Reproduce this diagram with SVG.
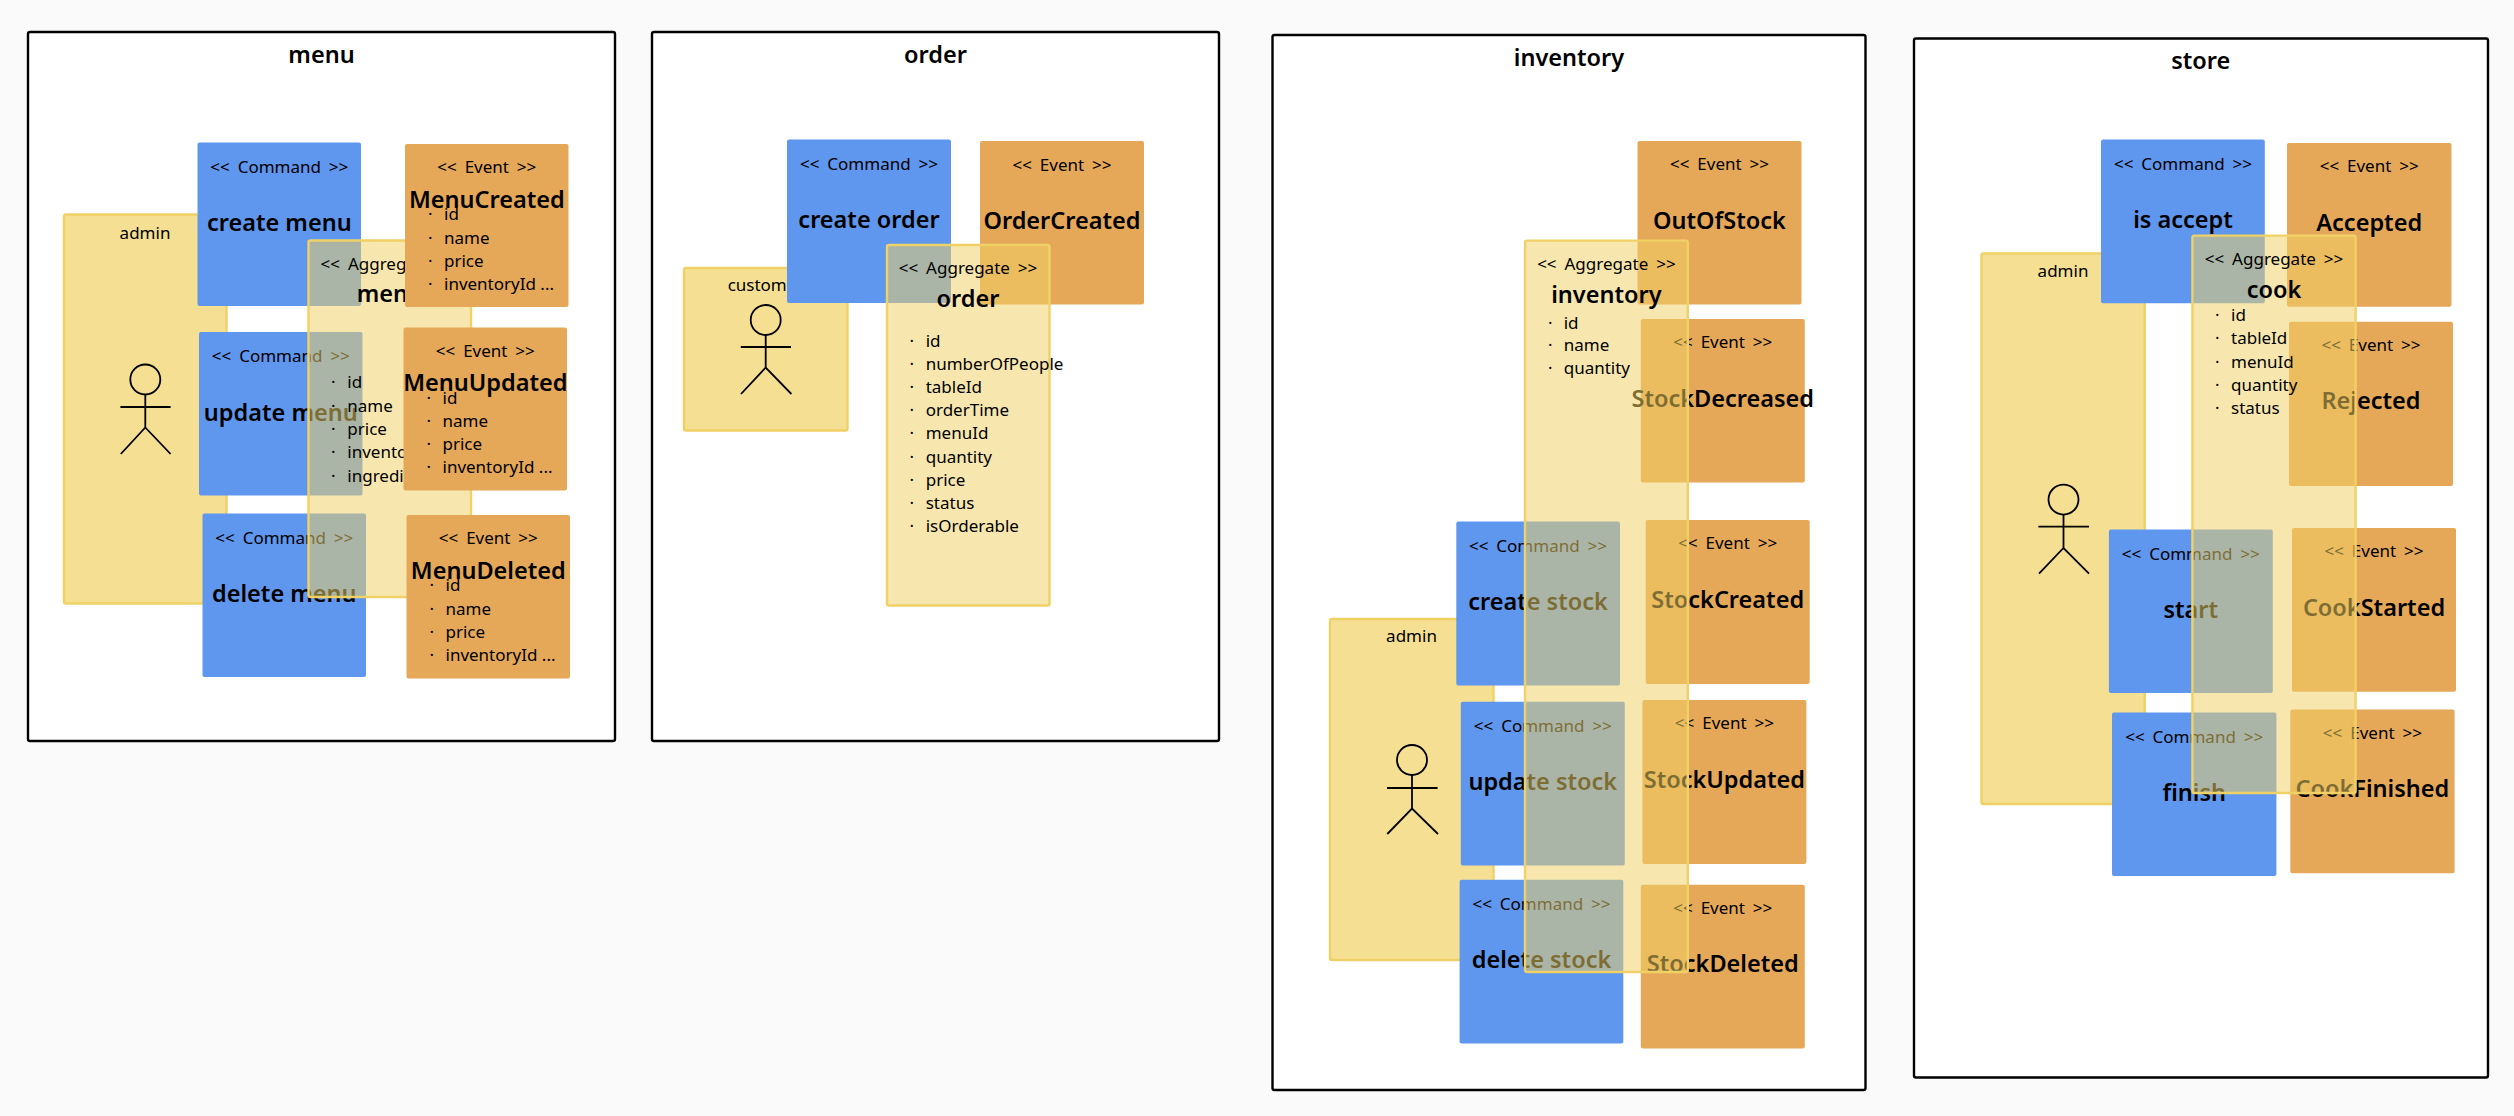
<svg xmlns="http://www.w3.org/2000/svg" width="2514" height="1116" viewBox="0 0 2514 1116">
<style>
text{font-family:"Noto Sans","Open Sans","DejaVu Sans",sans-serif;fill:#000}
.frame{fill:#fff;stroke:#000;stroke-width:2.4}
.title,.name{font-size:23.500px;font-weight:600;text-anchor:middle}
.tag{font-size:17px;word-spacing:3.500px;text-anchor:middle;transform:translateY(-1px)}
.attr{font-size:17px;transform:translateY(-1px)}
.actorname{font-size:17px;text-anchor:middle}
.cmd{fill:#5f96ee}
.evt{fill:#e5a858}
.actor{fill:#f0d165;fill-opacity:.7;stroke:#f0d165;stroke-width:2.4}
.agg{fill:#f0d165;fill-opacity:.52;stroke:#f0d165;stroke-width:2.4}
.stick{fill:none;stroke:#000;stroke-width:1.8}
</style>
<rect width="2514" height="1116" fill="#fafafa"/>

<g id="frame-menu"><rect class="frame" x="28" y="32" width="587" height="709" rx="2"/><text class="title" x="321.5" y="63">menu</text></g>
<g id="frame-order"><rect class="frame" x="652" y="32" width="567" height="709" rx="2"/><text class="title" x="935.5" y="63">order</text></g>
<g id="frame-inventory"><rect class="frame" x="1272.500" y="35" width="593" height="1055" rx="2"/><text class="title" x="1569" y="66">inventory</text></g>
<g id="frame-store"><rect class="frame" x="1914" y="38.500" width="574" height="1039" rx="2"/><text class="title" x="2200.800" y="69">store</text></g>

<g id="connectors"/>

<g id="actor-menu-admin"><rect class="actor" x="64" y="214.500" width="162.500" height="389" rx="2"/><text class="actorname" x="145" y="238.500">admin</text>
<g class="stick"><ellipse cx="145.300" cy="379.500" rx="15" ry="15"/><path d="M145.300 394.500V427.500M120.400 407H170.600M120.800 454L145.300 427.500L170.600 454"/></g></g>
<g id="cmd-create-menu"><rect class="cmd" x="197.500" y="142.500" width="163.500" height="163.500" rx="2"/><text class="tag" x="279.300" y="173.500">&lt;&lt; Command &gt;&gt;</text><text class="name" x="279.300" y="231">create menu</text></g>
<g id="cmd-update-menu"><rect class="cmd" x="199" y="332" width="163.500" height="163.500" rx="2"/><text class="tag" x="280.800" y="363">&lt;&lt; Command &gt;&gt;</text><text class="name" x="280.800" y="420.500">update menu</text></g>
<g id="cmd-delete-menu"><rect class="cmd" x="202.500" y="513.500" width="163.500" height="163.500" rx="2"/><text class="tag" x="284.300" y="544.500">&lt;&lt; Command &gt;&gt;</text><text class="name" x="284.300" y="602">delete menu</text></g>
<g id="agg-menu"><rect class="agg" x="308.500" y="240.500" width="162.500" height="356.500" rx="2"/><text class="tag" x="389.800" y="270.500">&lt;&lt; Aggregate &gt;&gt;</text><text class="name" x="389.800" y="301.500">menu</text>
<text class="attr" x="331" y="389">·</text><text class="attr" x="347.300" y="389">id</text>
<text class="attr" x="331" y="412.500">·</text><text class="attr" x="347.300" y="412.500">name</text>
<text class="attr" x="331" y="435.500">·</text><text class="attr" x="347.300" y="435.500">price</text>
<text class="attr" x="331" y="459">·</text><text class="attr" x="347.300" y="459">inventoryId</text>
<text class="attr" x="331" y="482.500">·</text><text class="attr" x="347.300" y="482.500">ingredi</text></g>
<g id="evt-menu-created"><rect class="evt" x="405" y="144" width="163.500" height="163" rx="2"/><text class="tag" x="486.800" y="174">&lt;&lt; Event &gt;&gt;</text><text class="name" x="486.800" y="207.500">MenuCreated</text>
<text class="attr" x="428" y="221">·</text><text class="attr" x="444" y="221">id</text><text class="attr" x="428" y="244.500">·</text><text class="attr" x="444" y="244.500">name</text><text class="attr" x="428" y="267.500">·</text><text class="attr" x="444" y="267.500">price</text><text class="attr" x="428" y="290.500">·</text><text class="attr" x="444" y="290.500">inventoryId ...</text></g>
<g id="evt-menu-updated"><rect class="evt" x="403.500" y="327.500" width="163.500" height="163" rx="2"/><text class="tag" x="485.300" y="357.500">&lt;&lt; Event &gt;&gt;</text><text class="name" x="485.300" y="391">MenuUpdated</text>
<text class="attr" x="426.500" y="404.500">·</text><text class="attr" x="442.500" y="404.500">id</text><text class="attr" x="426.500" y="428">·</text><text class="attr" x="442.500" y="428">name</text><text class="attr" x="426.500" y="451">·</text><text class="attr" x="442.500" y="451">price</text><text class="attr" x="426.500" y="474">·</text><text class="attr" x="442.500" y="474">inventoryId ...</text></g>
<g id="evt-menu-deleted"><rect class="evt" x="406.500" y="515" width="163.500" height="163.500" rx="2"/><text class="tag" x="488.300" y="545">&lt;&lt; Event &gt;&gt;</text><text class="name" x="488.300" y="578.500">MenuDeleted</text>
<text class="attr" x="429.500" y="592">·</text><text class="attr" x="445.500" y="592">id</text><text class="attr" x="429.500" y="615.500">·</text><text class="attr" x="445.500" y="615.500">name</text><text class="attr" x="429.500" y="638.500">·</text><text class="attr" x="445.500" y="638.500">price</text><text class="attr" x="429.500" y="661.500">·</text><text class="attr" x="445.500" y="661.500">inventoryId ...</text></g>

<g id="actor-order-customer"><rect class="actor" x="684" y="268" width="163.500" height="162.500" rx="2"/><text class="actorname" x="765.500" y="291">customer</text>
<g class="stick"><ellipse cx="765.700" cy="320" rx="15" ry="15"/><path d="M765.700 335V367.500M740.800 347H791M741 394L765.700 367.500L791.400 394"/></g></g>
<g id="cmd-create-order"><rect class="cmd" x="787" y="139.500" width="164" height="163.500" rx="2"/><text class="tag" x="869" y="170.500">&lt;&lt; Command &gt;&gt;</text><text class="name" x="869" y="228">create order</text></g>
<g id="evt-order-created"><rect class="evt" x="980" y="141" width="164" height="163.500" rx="2"/><text class="tag" x="1062" y="171.500">&lt;&lt; Event &gt;&gt;</text><text class="name" x="1062" y="228.500">OrderCreated</text></g>
<g id="agg-order"><rect class="agg" x="887" y="245" width="162.500" height="360.500" rx="2"/><text class="tag" x="968" y="275">&lt;&lt; Aggregate &gt;&gt;</text><text class="name" x="968" y="307">order</text>
<text class="attr" x="909.500" y="347.500">·</text><text class="attr" x="925.700" y="347.500">id</text>
<text class="attr" x="909.500" y="370.500">·</text><text class="attr" x="925.700" y="370.500">numberOfPeople</text>
<text class="attr" x="909.500" y="393.500">·</text><text class="attr" x="925.700" y="393.500">tableId</text>
<text class="attr" x="909.500" y="417">·</text><text class="attr" x="925.700" y="417">orderTime</text>
<text class="attr" x="909.500" y="440">·</text><text class="attr" x="925.700" y="440">menuId</text>
<text class="attr" x="909.500" y="463.500">·</text><text class="attr" x="925.700" y="463.500">quantity</text>
<text class="attr" x="909.500" y="487">·</text><text class="attr" x="925.700" y="487">price</text>
<text class="attr" x="909.500" y="510">·</text><text class="attr" x="925.700" y="510">status</text>
<text class="attr" x="909.500" y="533">·</text><text class="attr" x="925.700" y="533">isOrderable</text></g>

<g id="actor-inventory-admin"><rect class="actor" x="1330" y="619" width="163.500" height="341" rx="2"/><text class="actorname" x="1411.500" y="642">admin</text>
<g class="stick"><ellipse cx="1412" cy="760" rx="15" ry="15"/><path d="M1412 775V808.500M1387 788H1437.600M1387.300 834L1412 808.500L1438 834"/></g></g>
<g id="cmd-create-stock"><rect class="cmd" x="1456.300" y="521.500" width="163.700" height="164" rx="2"/><text class="tag" x="1538" y="552.500">&lt;&lt; Command &gt;&gt;</text><text class="name" x="1538" y="610">create stock</text></g>
<g id="cmd-update-stock"><rect class="cmd" x="1460.800" y="701.800" width="164" height="163.700" rx="2"/><text class="tag" x="1542.800" y="732.800">&lt;&lt; Command &gt;&gt;</text><text class="name" x="1542.800" y="790.300">update stock</text></g>
<g id="cmd-delete-stock"><rect class="cmd" x="1459.600" y="879.700" width="163.700" height="163.700" rx="2"/><text class="tag" x="1541.500" y="910.700">&lt;&lt; Command &gt;&gt;</text><text class="name" x="1541.500" y="968.200">delete stock</text></g>
<g id="evt-out-of-stock"><rect class="evt" x="1637.500" y="141" width="164" height="163.600" rx="2"/><text class="tag" x="1719.500" y="171">&lt;&lt; Event &gt;&gt;</text><text class="name" x="1719.500" y="228.500">OutOfStock</text></g>
<g id="evt-stock-decreased"><rect class="evt" x="1640.800" y="318.900" width="164" height="163.700" rx="2"/><text class="tag" x="1722.800" y="349">&lt;&lt; Event &gt;&gt;</text><text class="name" x="1722.800" y="406.500">StockDecreased</text></g>
<g id="evt-stock-created"><rect class="evt" x="1645.700" y="520" width="164" height="164" rx="2"/><text class="tag" x="1727.700" y="550">&lt;&lt; Event &gt;&gt;</text><text class="name" x="1727.700" y="607.500">StockCreated</text></g>
<g id="evt-stock-updated"><rect class="evt" x="1642.400" y="700" width="164" height="164" rx="2"/><text class="tag" x="1724.400" y="730">&lt;&lt; Event &gt;&gt;</text><text class="name" x="1724.400" y="787.500">StockUpdated</text></g>
<g id="evt-stock-deleted"><rect class="evt" x="1640.800" y="884.700" width="164" height="163.700" rx="2"/><text class="tag" x="1722.800" y="914.700">&lt;&lt; Event &gt;&gt;</text><text class="name" x="1722.800" y="972.200">StockDeleted</text></g>
<g id="agg-inventory"><rect class="agg" x="1525" y="240.600" width="162.800" height="731.400" rx="2"/><text class="tag" x="1606.400" y="271">&lt;&lt; Aggregate &gt;&gt;</text><text class="name" x="1606.400" y="302.500">inventory</text>
<text class="attr" x="1548" y="329.500">·</text><text class="attr" x="1563.700" y="329.500">id</text>
<text class="attr" x="1548" y="352.300">·</text><text class="attr" x="1563.700" y="352.300">name</text>
<text class="attr" x="1548" y="375">·</text><text class="attr" x="1563.700" y="375">quantity</text></g>

<g id="actor-store-admin"><rect class="actor" x="1981.500" y="253.500" width="163.200" height="550.500" rx="2"/><text class="actorname" x="2063" y="276.500">admin</text>
<g class="stick"><ellipse cx="2063.500" cy="499.600" rx="15" ry="15"/><path d="M2063.500 514.600V548M2038.400 526.700H2089M2039 573.700L2063.500 548L2089 573.700"/></g></g>
<g id="cmd-is-accept"><rect class="cmd" x="2101" y="139.500" width="163.800" height="163.700" rx="2"/><text class="tag" x="2183" y="170.500">&lt;&lt; Command &gt;&gt;</text><text class="name" x="2183" y="228">is accept</text></g>
<g id="cmd-start"><rect class="cmd" x="2108.900" y="529.500" width="163.900" height="163.500" rx="2"/><text class="tag" x="2190.800" y="560.500">&lt;&lt; Command &gt;&gt;</text><text class="name" x="2190.800" y="618">start</text></g>
<g id="cmd-finish"><rect class="cmd" x="2112" y="712.500" width="164.400" height="163.500" rx="2"/><text class="tag" x="2194.200" y="743.500">&lt;&lt; Command &gt;&gt;</text><text class="name" x="2194.200" y="801">finish</text></g>
<g id="evt-accepted"><rect class="evt" x="2287" y="143" width="164.500" height="163.800" rx="2"/><text class="tag" x="2369.200" y="173">&lt;&lt; Event &gt;&gt;</text><text class="name" x="2369.200" y="230.500">Accepted</text></g>
<g id="evt-rejected"><rect class="evt" x="2289" y="321.700" width="164" height="164.300" rx="2"/><text class="tag" x="2371" y="351.700">&lt;&lt; Event &gt;&gt;</text><text class="name" x="2371" y="409.200">Rejected</text></g>
<g id="evt-cook-started"><rect class="evt" x="2292" y="528" width="164" height="163.800" rx="2"/><text class="tag" x="2374" y="558">&lt;&lt; Event &gt;&gt;</text><text class="name" x="2374" y="615.500">CookStarted</text></g>
<g id="evt-cook-finished"><rect class="evt" x="2290.300" y="709.600" width="164.300" height="163.700" rx="2"/><text class="tag" x="2372.400" y="739.600">&lt;&lt; Event &gt;&gt;</text><text class="name" x="2372.400" y="797">CookFinished</text></g>
<g id="agg-cook"><rect class="agg" x="2192.400" y="235.600" width="163.200" height="557.400" rx="2"/><text class="tag" x="2274" y="266">&lt;&lt; Aggregate &gt;&gt;</text><text class="name" x="2274" y="297.500">cook</text>
<text class="attr" x="2215" y="321.700">·</text><text class="attr" x="2231" y="321.700">id</text>
<text class="attr" x="2215" y="345">·</text><text class="attr" x="2231" y="345">tableId</text>
<text class="attr" x="2215" y="368.700">·</text><text class="attr" x="2231" y="368.700">menuId</text>
<text class="attr" x="2215" y="392">·</text><text class="attr" x="2231" y="392">quantity</text>
<text class="attr" x="2215" y="415">·</text><text class="attr" x="2231" y="415">status</text></g>
</svg>
